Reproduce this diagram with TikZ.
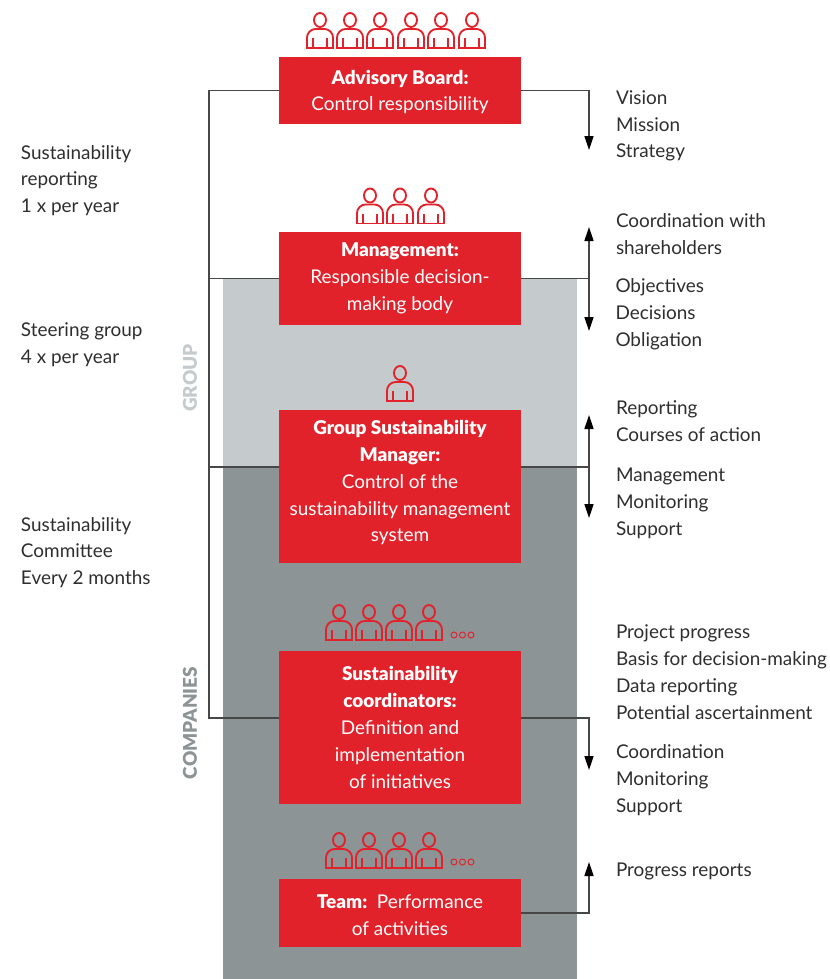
\documentclass[tikz,border=0pt]{standalone}
\usepackage{fontspec}
\setmainfont[BoldFont={Lato Black}]{Lato}
\usepackage{xcolor}
\usetikzlibrary{arrows.meta}
\definecolor{boxred}{HTML}{E1222B}
\definecolor{bandlight}{HTML}{C5CACC}
\definecolor{banddark}{HTML}{8C9496}
\definecolor{textgrey}{HTML}{2E2E2E}

\begin{document}
\begin{tikzpicture}[x=0.75pt, y=-0.75pt,
		    every node/.style={inner sep=0pt, outer sep=0pt}
		]
		\tikzset{
		    caixa/.style={fill=boxred, text=white, minimum width=181.5pt, align=center, font=\fontsize{14.2}{20.1}\selectfont},
		    nota/.style={anchor=west, align=left, text=textgrey, font=\fontsize{14.2}{20.1}\selectfont},
		    faixa/.style={anchor=north west, minimum width=265.5pt},
		    grupo/.style={rotate=90, font=\fontsize{14.2}{16}\selectfont\bfseries},
		    linha/.style={draw=black!72, line width=0.85pt},
		    ponta/.tip={Triangle[length=10.5pt, width=6.8pt, black]},
		    seta/.style={linha, -ponta},
		    duplaseta/.style={linha, ponta-ponta},
		    pessoa/.pic={
		        \draw[boxred, line width=1.4pt, rounded corners=6.5pt] (-13,0) -- (-13,-19) -- (13,-19) -- (13,0);
		        \draw[boxred, line width=1.4pt] (-13.9,0) -- (13.9,0) (-7,0) -- (-7,-10) (7,0) -- (7,-10);
		        \draw[boxred, line width=1.4pt] (0,-28) ellipse [x radius=6, y radius=7];
		    },
		    reticencias/.pic={
		        \foreach \cx in {0,8.5,17}
		            \draw[boxred, line width=0.7pt] (\cx,0) circle (3);
		    }
		}
		\useasboundingbox (0,0) rectangle (830,979);

		% faixas
		\node[faixa, fill=bandlight, minimum height=141pt] (bandgroup) at (223,279) {};
		\node[faixa, fill=banddark, minimum height=384pt] (bandcompanies) at (223,467) {};
		\node[grupo, text=bandlight] (labelgroup) at (190,378) {GROUP};
		\node[grupo, text=banddark] (labelcompanies) at (190,723) {COMPANIES};

		% caixas
		\node[caixa, minimum height=50.25pt] (advisory) at (400,90.5) {\rule{0pt}{13pt}\textbf{Advisory Board:}\\Control responsibility};
		\node[caixa, minimum height=69.75pt] (management) at (400,278.5) {\textbf{Management:}\\Responsible decision-\\making body};
		\node[caixa, minimum height=114.75pt] (groupmanager) at (400,486.5) {\textbf{Group Sustainability}\\\textbf{Manager:}\\Control of the\\sustainability management\\system\rule[-8pt]{0pt}{8pt}};
		\node[caixa, minimum height=114.75pt] (coordinators) at (400,727.5) {\textbf{Sustainability}\\\textbf{coordinators:}\\Definition and\\implementation\\of initiatives};
		\node[caixa, minimum height=51pt] (team) at (400,913) {\rule{0pt}{13pt}\textbf{Team:}\, Performance\\of activities};

		% pessoas
		\foreach \px in {320,350,380,411,441,472}
		    \pic at (\px,48) {pessoa};
		\foreach \px in {370,400,431}
		    \pic at (\px,223.5) {pessoa};
		\pic at (400,401) {pessoa};
		\foreach \px in {339,369,399,429}
		    \pic at (\px,640) {pessoa};
		\pic at (454,635) {reticencias};
		\foreach \px in {339,369,399,429}
		    \pic at (\px,868) {pessoa};
		\pic at (454,862) {reticencias};

		% ligacoes
		\coordinate (railtop) at (209,90.5);
		\coordinate (railmanagement) at (209,278.5);
		\coordinate (railgroup) at (209,467);
		\coordinate (railbottom) at (209,718);
		\coordinate (advisoryend) at (589,150);
		\coordinate (managementup) at (589,227);
		\coordinate (managementdown) at (589,331);
		\coordinate (groupup) at (589,415);
		\coordinate (groupdown) at (589,518);
		\coordinate (coordinatorsdown) at (589,770);
		\coordinate (teamup) at (589,862);

		\draw[linha] (advisory.west) -- (railtop) -- (railbottom) -- (coordinators.west |- railbottom);
		\draw[linha] (railmanagement) -- (management.west);
		\draw[linha] (railgroup) -- (groupmanager.west |- railgroup);
		\draw[seta] (advisory.east) -| (advisoryend);
		\draw[duplaseta] (managementup) -- (managementdown);
		\draw[linha] (management.east) -- (management.east -| managementup);
		\draw[duplaseta] (groupup) -- (groupdown);
		\draw[linha] (groupmanager.east |- railgroup) -- (railgroup -| groupup);
		\draw[seta] (coordinators.east |- railbottom) -| (coordinatorsdown);
		\draw[seta] (team.east) -| (teamup);

		% textos
		\node[nota] (notereporting) at (21,180.5) {Sustainability\\reporting\\1 x per year};
		\node[nota] (notesteering) at (21,345) {Steering group\\4 x per year};
		\node[nota] (notecommittee) at (21,552.5) {Sustainability\\Committee\\Every 2 months};
		\node[nota] (notevision) at (616,126) {Vision\\Mission\\Strategy};
		\node[nota] (noteshareholders) at (616,234) {Coordination with\\shareholders};
		\node[nota] (noteobjectives) at (615.5,314) {Objectives\\Decisions\\Obligation};
		\node[nota] (notecourses) at (616,421.5) {Reporting\\Courses of action};
		\node[nota] (notemanagement) at (616,503.5) {Management\\Monitoring\\Support};
		\node[nota] (noteprogress) at (616,672) {Project progress\\Basis for decision-making\\Data reporting\\Potential ascertainment};
		\node[nota] (notecoordination) at (616,780) {Coordination\\Monitoring\\Support};
		\node[nota] (notereports) at (616,871) {Progress reports};
		\end{tikzpicture}
\end{document}
